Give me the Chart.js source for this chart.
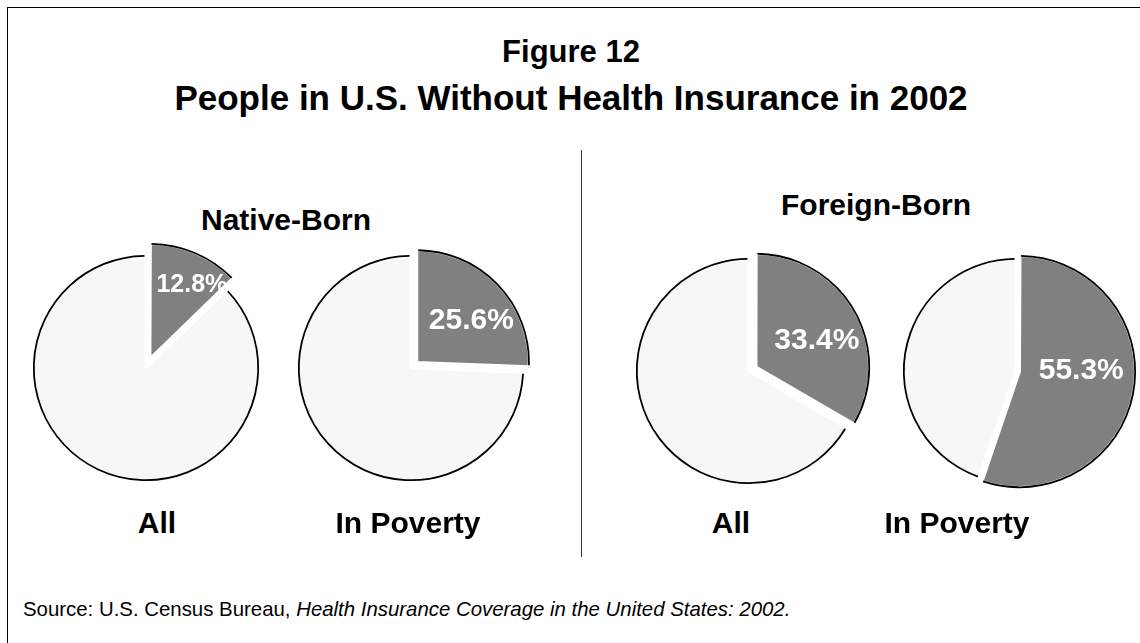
<!DOCTYPE html>
<html>
<head>
<meta charset="utf-8">
<script src="https://cdn.jsdelivr.net/npm/chart.js@4.4.1/dist/chart.umd.min.js"></script>
<style>
  body { margin: 0; width: 1140px; height: 643px; background: #fff; overflow: hidden; position: relative;
         font-family: "Liberation Sans", Arial, sans-serif; color: #000; }
  .frame { position: absolute; left: 7px; top: 7px; width: 1300px; height: 800px;
           border-left: 1px solid #000; border-top: 1px solid #000; }
  .txt { position: absolute; white-space: nowrap; font-weight: bold; transform: translateX(-50%); }
  .divider { position: absolute; left: 581px; top: 150px; width: 1px; height: 407px; background: #333; }
  canvas { position: absolute; }
  .source { position: absolute; left: 23px; top: 598px; font-size: 20.4px; white-space: nowrap; }
</style>
</head>
<body>
<div class="frame"></div>
<div class="txt" style="left:571px; top:34px; font-size:31px;">Figure 12</div>
<div class="txt" style="left:571px; top:78px; font-size:35px;">People in U.S. Without Health Insurance in 2002</div>
<div class="txt" id="g0" style="left:286px; top:203px; font-size:30px;"></div>
<div class="txt" id="g1" style="left:876px; top:188px; font-size:30px;"></div>
<div class="divider"></div>
<div id="pies"></div>
<div class="source">Source: U.S. Census Bureau, <i>Health Insurance Coverage in the United States: 2002.</i></div>

<script>
// data
const groups = ['Native-Born', 'Foreign-Born'];
const pieNames = ['All', 'In Poverty', 'All', 'In Poverty'];
const uninsured = [12.8, 25.6, 33.4, 55.3];
const insured = [87.2, 74.4, 66.6, 44.7];

// layout / look
const pieCenters = [[146, 367.5], [410.5, 367.5], [749, 370.5], [1015.5, 370.5]];
const nameX = [157, 408, 731, 957];
const explode = [40, 32, 32, 14];        // chart.js arc offset (drawn at offset/4)
const labelDist = [0.84, 0.68, 0.66, 0.58];
const labelShift = [6, 6, 6, -9.5];      // degrees
const labelSize = [25, 30, 30, 30];
const grey = '#808080';
const light = '#f7f7f7';

document.getElementById('g0').textContent = groups[0];
document.getElementById('g1').textContent = groups[1];

// black rim on the outer arc of every slice + the white % label
const rimAndLabel = {
    id: 'rimAndLabel',
    afterDatasetsDraw(chart, args, opts) {
        const ctx = chart.ctx;
        const meta = chart.getDatasetMeta(0);
        meta.data.forEach((arc) => {
            const p = arc.getProps(['x', 'y', 'startAngle', 'endAngle', 'outerRadius', 'circumference']);
            const off = (arc.options.offset || 0) / 4;
            const mid = (p.startAngle + p.endAngle) / 2;
            const fix = 1 - Math.sin(Math.min(Math.PI, p.circumference));
            const cx = p.x + Math.cos(mid) * off;
            const cy = p.y + Math.sin(mid) * off;
            const r = p.outerRadius + off * fix;
            const trim = 1.5 / r;
            ctx.save();
            ctx.beginPath();
            ctx.arc(cx, cy, r - 0.3, p.startAngle + trim, p.endAngle - trim);
            ctx.strokeStyle = '#000';
            ctx.lineWidth = 1.8;
            ctx.stroke();
            ctx.restore();
        });

        const a = meta.data[0];
        const p = a.getProps(['x', 'y', 'startAngle', 'endAngle', 'outerRadius']);
        const ang = (p.startAngle + p.endAngle) / 2 + opts.shift * Math.PI / 180;
        const d = p.outerRadius * opts.dist;
        ctx.save();
        ctx.fillStyle = '#fff';
        ctx.font = 'bold ' + opts.size + 'px "Liberation Sans", Arial, sans-serif';
        ctx.textAlign = 'center';
        ctx.textBaseline = 'middle';
        ctx.fillText(chart.data.datasets[0].data[0].toFixed(1) + '%', p.x + Math.cos(ang) * d, p.y + Math.sin(ang) * d);
        ctx.restore();
    }
};

const holder = document.getElementById('pies');
const size = 270;

uninsured.forEach((val, i) => {
    const cv = document.createElement('canvas');
    cv.width = size;
    cv.height = size;
    cv.style.left = (pieCenters[i][0] - size / 2) + 'px';
    cv.style.top = (pieCenters[i][1] - size / 2) + 'px';
    holder.appendChild(cv);

    new Chart(cv.getContext('2d'), {
        type: 'pie',
        data: {
            labels: ['Uninsured', 'Insured'],
            datasets: [{
                data: [val, insured[i]],
                backgroundColor: [grey, light],
                borderColor: '#fff',
                borderWidth: 3,
                offset: [explode[i], 0],
                hoverOffset: 0
            }]
        },
        options: {
            responsive: false,
            animation: false,
            events: [],
            radius: 112.5,
            layout: { padding: 0 },
            plugins: {
                legend: { display: false },
                tooltip: { enabled: false },
                rimAndLabel: { dist: labelDist[i], shift: labelShift[i], size: labelSize[i] }
            }
        },
        plugins: [rimAndLabel]
    });

    const lab = document.createElement('div');
    lab.className = 'txt';
    lab.style.left = nameX[i] + 'px';
    lab.style.top = '506px';
    lab.style.fontSize = '30px';
    lab.textContent = pieNames[i];
    holder.appendChild(lab);
});
</script>
</body>
</html>
